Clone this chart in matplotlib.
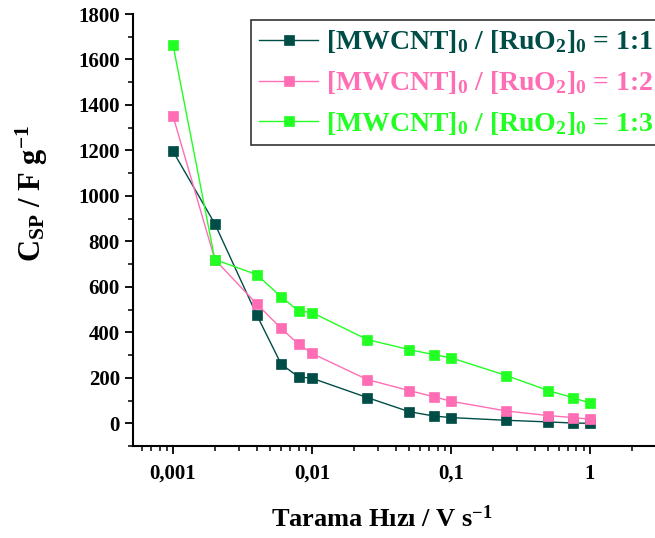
import matplotlib
matplotlib.use("Agg")
import matplotlib.pyplot as plt
from matplotlib.ticker import FixedLocator, FixedFormatter, LogLocator, MultipleLocator

plt.rcParams['font.family'] = 'Liberation Serif'
plt.rcParams['font.weight'] = 'bold'
plt.rcParams['mathtext.fontset'] = 'custom'
plt.rcParams['mathtext.rm'] = 'Liberation Serif:bold'
plt.rcParams['mathtext.bf'] = 'Liberation Serif:bold'
plt.rcParams['mathtext.it'] = 'Liberation Serif:bold'

# scan rates (V/s) and specific capacitance (F/g)
scan_rate = [0.001, 0.002, 0.004, 0.006, 0.008, 0.01, 0.025, 0.05, 0.075, 0.1, 0.25, 0.5, 0.75, 1]
csp_11 = [1196, 877, 477, 260, 204, 198, 113, 51, 32, 25, 13, 6, 1, 0]
csp_12 = [1351, 720, 525, 417, 348, 307, 192, 144, 117, 97, 54, 34, 25, 18]
csp_13 = [1664, 720, 654, 556, 494, 487, 368, 324, 302, 288, 210, 144, 113, 89]

labels = [r'[MWCNT]$_0$ / [RuO$_2$]$_0$ = 1:1',
          r'[MWCNT]$_0$ / [RuO$_2$]$_0$ = 1:2',
          r'[MWCNT]$_0$ / [RuO$_2$]$_0$ = 1:3']
colors = ['#004d47', '#ff6eb4', '#22ff22']

xticks = [0.001, 0.01, 0.1, 1]
xticklabels = ['0,001', '0,01', '0,1', '1']

fig = plt.figure(figsize=(6.55, 5.38), dpi=100)
ax = fig.add_axes([133/655, 92/538, 1 - 133/655, (446 - 14)/538])

for y, c, lab in zip([csp_11, csp_12, csp_13], colors, labels):
    ax.plot(scan_rate, y, color=c, lw=1, marker='s', ms=7.5,
            mec=c, mew=0.5, label=lab)

ax.set_xscale('log')
ax.set_xlim(10**-3.288, 10**0.468)
ax.set_ylim(-100, 1800)
ax.xaxis.set_major_locator(FixedLocator(xticks))
ax.xaxis.set_major_formatter(FixedFormatter(xticklabels))
ax.xaxis.set_minor_locator(LogLocator(base=10, subs=range(2, 10)))
ax.yaxis.set_major_locator(MultipleLocator(200))
ax.yaxis.set_minor_locator(MultipleLocator(100))

for s in ['top', 'right']:
    ax.spines[s].set_visible(False)
for s in ['left', 'bottom']:
    ax.spines[s].set_linewidth(1.5)
ax.tick_params(which='major', direction='out', length=6, width=1.3, labelsize=15)
ax.tick_params(which='minor', direction='out', length=3.5, width=1.1)
ax.tick_params(axis='x', which='major', pad=7)

ax.set_xlabel(r'Tarama Hızı / V s$^{\mathbf{-1}}$', fontsize=19, fontweight='bold')
ax.set_ylabel(r'C$_{\mathrm{SP}}$ / F g$^{\mathrm{-1}}$', fontsize=22, fontweight='bold')
ax.xaxis.set_label_coords((382 - 133) / 522, -(505 - 446) / 432)
ax.yaxis.set_label_coords(-(133 - 50) / 522, (446 - 193) / 432)

leg = fig.legend(loc='upper left', bbox_to_anchor=(251/655, 1 - 20/538),
                 fontsize=20, frameon=True, fancybox=False, edgecolor='black',
                 handlelength=2.1, handletextpad=0.3, labelspacing=0.5,
                 borderpad=0.3, borderaxespad=0)
leg.get_frame().set_linewidth(1.2)
for t, c in zip(leg.get_texts(), colors):
    t.set_color(c)

fig.savefig('out.png', dpi=100)
